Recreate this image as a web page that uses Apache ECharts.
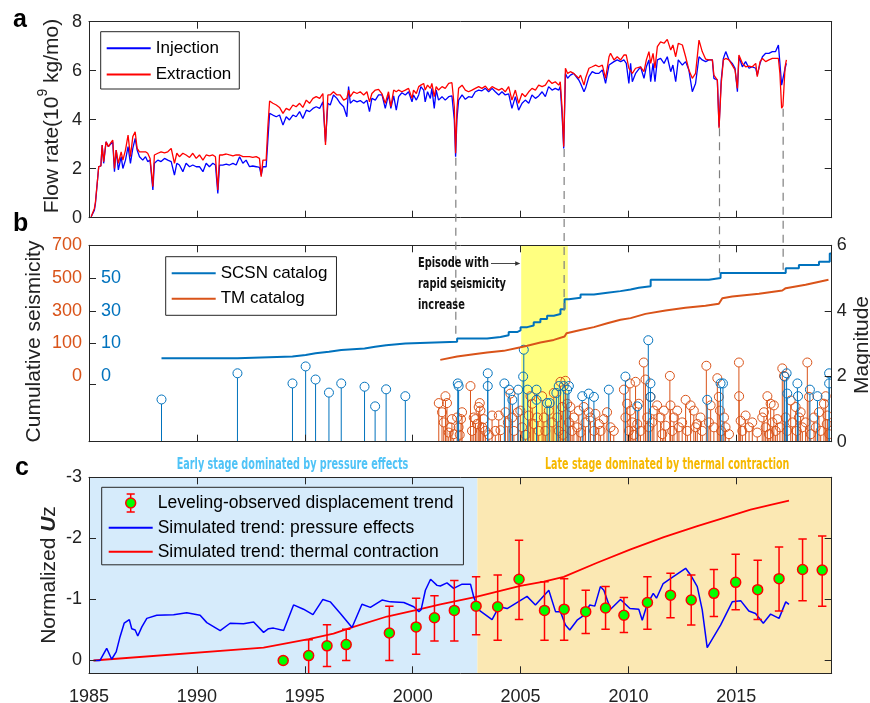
<!DOCTYPE html>
<html><head><meta charset="utf-8">
<script src="https://cdn.jsdelivr.net/npm/echarts@6/dist/echarts.min.js"></script>
<style>html,body{margin:0;padding:0;background:#fff}#c{width:870px;height:703px}</style>
</head><body><div id="c"></div>
<script>
// ---------------- DATA ----------------
// Panel a: flow rates (10^9 kg/mo)
const flowYears = [
1985.10,1985.25,1985.30,1985.38,1985.45,1985.55,1985.61,1985.68,1985.79,1985.90,
1985.99,1986.10,1986.18,1986.26,1986.36,1986.49,1986.57,1986.69,1986.81,1986.92,
1987.03,1987.14,1987.23,1987.34,1987.49,1987.62,1987.72,1987.83,1987.96,1988.03,
1988.19,1988.34,1988.50,1988.65,1988.81,1988.96,1989.07,1989.19,1989.35,1989.50,
1989.66,1989.81,1989.97,1990.12,1990.28,1990.43,1990.58,1990.74,1990.86,1990.97,
1991.05,1991.20,1991.36,1991.51,1991.67,1991.82,1991.98,1992.13,1992.28,1992.44,
1992.59,1992.75,1992.90,1992.98,1993.06,1993.21,1993.29,1993.37,1993.52,1993.68,
1993.83,1993.99,1994.14,1994.29,1994.45,1994.60,1994.76,1994.91,1995.07,1995.22,
1995.38,1995.53,1995.69,1995.84,1995.96,1996.07,
1996.18,1996.33,1996.49,1996.64,1996.80,1996.95,1997.03,1997.11,1997.26,1997.42,
1997.57,1997.73,1997.88,1998.00,1998.11,1998.27,1998.42,1998.58,1998.73,1998.88,
1998.99,1999.12,1999.24,1999.35,1999.50,1999.66,1999.81,1999.97,2000.04,2000.17,
2000.28,2000.38,2000.51,2000.58,2000.69,2000.82,2000.89,2001.00,2001.09,2001.20,
2001.36,2001.51,2001.67,2001.82,2001.93,2001.99,2002.05,2002.13,2002.29,2002.44,
2002.59,2002.75,2002.90,2003.06,2003.21,2003.37,2003.52,2003.68,2003.83,2003.99,
2004.14,2004.29,2004.45,2004.60,2004.76,2004.91,2005.07,2005.22,2005.38,2005.53,
2005.69,2005.84,2006.00,2006.15,2006.30,2006.46,2006.61,2006.77,2006.84,2006.92,
2007.00,2007.08,2007.18,2007.31,2007.46,
2007.70,2007.78,2007.94,2008.01,2008.17,2008.32,2008.48,2008.63,2008.79,2008.94,
2009.10,2009.17,2009.33,2009.48,2009.64,2009.79,2009.90,2010.02,2010.10,2010.18,
2010.33,2010.56,2010.72,2010.83,2010.95,2011.03,2011.14,2011.23,2011.34,2011.49,
2011.65,2011.80,2011.96,2012.06,2012.19,2012.31,2012.50,2012.65,2012.80,2012.96,
2013.11,2013.27,2013.42,2013.58,2013.73,2013.89,2013.96,2014.12,2014.20,2014.30,
2014.40,2014.51,2014.66,2014.81,2014.94,2015.05,2015.12,2015.28,2015.43,2015.59,
2015.74,2015.90,2015.97,2016.10,2016.21,2016.36,2016.51,2016.67,2016.82,2016.95,
2017.02,2017.10,2017.16,2017.26,2017.32];
const injection = [
0.04,0.31,0.59,0.59,2.08,2.11,2.97,2.22,3.10,2.90,
2.93,3.10,1.88,2.76,1.95,2.49,2.01,2.35,2.90,2.22,
2.83,3.24,2.76,2.49,2.35,2.49,2.29,2.35,1.13,2.22,
2.35,2.29,2.42,2.35,2.29,1.74,2.22,2.15,1.88,2.22,
2.08,2.15,2.08,2.08,1.88,2.22,2.08,2.22,2.15,0.99,
2.15,2.15,2.19,2.15,2.22,2.15,2.49,2.22,2.35,2.08,
2.11,2.08,2.05,1.74,2.08,2.08,3.17,4.26,4.19,4.12,
4.19,3.78,4.12,3.99,4.19,4.12,4.33,4.05,4.39,4.33,
4.46,4.53,4.46,4.73,3.10,4.67,
4.60,5.01,4.87,4.67,4.53,4.12,5.35,4.67,4.80,4.73,
4.78,4.67,4.80,4.33,4.87,4.80,5.01,5.01,4.46,5.01,
4.46,4.97,4.39,4.94,5.10,5.01,5.14,4.73,5.01,4.80,
5.01,5.35,5.21,4.73,5.14,4.87,5.28,4.46,5.21,4.80,
4.94,4.80,4.94,4.97,3.99,2.49,4.00,4.80,5.01,4.83,
4.94,4.91,5.14,5.21,5.18,5.28,5.14,5.28,5.14,5.01,
5.14,5.01,5.05,4.46,4.94,4.39,4.67,4.80,4.67,5.01,
4.87,4.97,5.14,4.94,5.35,5.21,5.28,5.21,5.35,4.26,
2.83,5.89,5.69,5.82,5.89,
5.62,5.48,5.14,5.28,5.76,5.96,5.89,5.89,6.03,5.48,
6.23,6.30,6.37,6.44,6.37,6.44,6.30,5.48,6.30,5.55,
5.89,6.16,5.69,6.16,6.44,5.55,6.30,5.55,6.44,6.50,
6.30,6.57,5.96,6.23,5.55,6.44,6.23,6.37,6.03,5.14,
5.48,6.57,6.44,6.37,6.44,6.44,5.69,5.62,3.71,5.62,
6.50,6.78,6.44,6.30,6.10,5.14,6.57,6.16,6.37,6.10,
6.16,6.10,5.82,6.30,6.57,6.71,6.71,6.78,6.78,7.05,
6.30,5.41,5.48,6.10,6.30];
const extraction = [
0.04,0.38,0.65,0.61,2.08,2.11,2.97,2.29,3.10,2.90,
3.03,3.17,2.01,2.76,2.22,2.69,2.35,2.76,3.37,2.49,
3.31,3.51,2.83,2.69,2.69,2.69,2.63,2.42,1.27,2.56,
2.63,2.69,2.65,2.69,2.83,2.22,2.63,2.49,2.63,2.56,
2.46,2.63,2.42,2.56,2.35,2.56,2.52,2.56,2.49,1.13,
2.56,2.56,2.60,2.56,2.52,2.56,2.56,2.49,2.49,2.49,
2.46,2.49,2.42,1.67,2.35,2.35,3.71,4.76,4.67,4.60,
4.50,4.26,4.46,4.39,4.60,4.53,4.67,4.50,4.80,4.67,
4.87,4.94,4.87,5.07,2.97,5.01,
5.01,5.14,5.01,5.01,4.80,4.87,5.21,4.94,5.14,5.07,
5.14,5.01,5.14,4.73,5.07,5.21,5.24,5.05,4.67,5.14,
4.53,5.21,5.14,5.21,5.14,5.21,5.28,4.87,5.21,5.07,
5.35,5.41,5.48,5.21,5.41,5.28,5.48,4.94,5.35,5.21,
5.35,5.28,5.48,5.51,4.53,2.63,4.39,5.28,5.41,5.21,
5.14,5.21,5.28,5.35,5.28,5.37,5.21,5.35,5.28,5.21,
5.28,5.14,5.35,4.80,5.21,4.67,5.07,4.94,5.14,5.28,
5.21,5.41,5.35,5.41,5.62,5.48,5.55,5.41,5.55,4.53,
2.90,6.10,5.89,5.96,5.89,
5.69,5.82,5.41,5.69,6.10,6.16,6.23,6.16,6.23,5.69,
6.57,6.71,6.44,6.57,6.44,6.64,6.64,6.10,6.16,5.89,
6.10,6.16,5.96,6.44,6.78,6.30,6.71,6.10,6.98,7.18,
7.12,7.28,6.84,7.05,6.57,7.12,7.05,6.57,6.03,5.69,
5.89,7.25,6.78,6.47,6.44,6.44,5.82,5.62,3.65,5.48,
6.44,6.50,6.44,6.23,6.03,5.28,6.64,6.30,6.16,6.19,
6.16,6.30,5.76,6.37,6.50,6.37,6.44,6.50,6.50,6.50,
5.89,4.47,4.56,6.16,6.44];

// Panel b: cumulative seismicity
const scsnCumYears = [1988.36,1991.88,1994.43,1995.04,1995.50,1996.12,1996.69,1997.77,1998.26,1998.77,1999.66,
2002.06,2003.45,2004.07,2004.45,2004.84,2005.00,2005.31,2005.61,2005.92,2006.23,
2006.54,2006.85,2007.04,2007.24,2007.78,2008.40,2009.02,2009.63,2010.10,2010.48,
2011.03,2013.73,2014.27,2017.29,2017.90,2018.83,2019.33,2019.42];
const scsnCum = [1,2,3,4,5,6,7,8,9,10,11,13,14,15,17,18,20,21,23,25,27,28,31,37,38,40,41,42,43,44,45,49,50,53,56,58,60,65,65];
const tmCumYears = [2001.28,2002.06,2002.83,2003.45,2004.22,2005.00,2005.31,2005.92,2006.54,2007.04,
2007.13,2007.78,2008.40,2009.02,2009.63,2010.10,2010.79,2011.72,2012.64,2013.57,
2014.19,2014.35,2014.81,2016.05,2017.13,2017.29,2018.21,2019.27];
const tmCum = [0,20,35,45,55,77,86,106,122,143,163,183,200,224,245,255,281,302,318,330,343,377,387,404,424,438,459,489];
// Panel b: event magnitudes
const scsnYears = [1988.36,1991.88,1994.43,1995.04,1995.50,1996.12,1996.69,1997.77,1998.26,1998.77,1999.66,
2002.09,2002.13,2003.48,2003.48,2004.25,2004.47,2004.62,2004.89,2005.15,2005.12,
2005.33,2005.74,2005.74,2006.23,2006.35,2006.66,2006.77,2007.00,2007.16,2007.24,
2007.86,2008.16,2008.40,2009.09,2009.86,2010.41,2010.92,2011.02,2011.02,2013.65,
2014.27,2014.38,2017.24,2017.33,2017.36,2017.83,2017.86,2018.41,2018.76,2019.30,2019.30];
const scsnMags = [1.29,2.09,1.78,2.30,1.90,1.50,1.78,1.68,1.08,1.60,1.39,
1.78,1.70,2.09,1.70,1.78,1.59,1.28,1.59,2.81,1.99,
1.59,1.59,1.28,1.18,1.18,1.49,1.70,1.70,1.59,1.70,
1.39,1.47,1.37,1.59,1.99,1.08,3.10,1.78,1.37,1.28,
1.78,1.78,1.99,2.09,1.47,1.78,1.39,1.59,1.39,2.09,1.78];
const tmYears = [
2001.21,2001.36,2001.44,2001.52,2001.59,2001.67,2001.75,2001.82,2001.90,2002.06,
2002.13,2002.18,2002.24,2002.29,2002.68,2002.75,2002.83,2002.91,2002.98,2003.06,
2003.11,2003.14,2003.22,2003.29,2003.37,2003.53,2003.68,2003.83,2003.99,2004.07,
2004.30,2004.41,2004.53,2004.61,2004.69,2004.87,2004.99,2005.07,2005.23,2005.38,
2005.46,2005.54,2005.61,2005.77,2005.84,2006.00,2006.08,2006.15,2006.31,2006.46,
2006.54,2006.70,2006.77,2006.85,2006.93,2006.97,2007.08,2007.16,2007.24,2007.31,
2007.39,2007.47,2007.62,2007.70,2007.78,2007.93,2008.01,2008.16,2008.24,2008.40,
2008.47,2008.63,2008.71,2008.86,2009.01,2009.17,2009.32,2009.79,2009.86,2009.94,
2010.02,2010.07,2010.10,2010.17,2010.25,2010.33,2010.41,2010.48,2010.56,2010.71,
2010.79,2010.87,2010.95,2011.02,2011.10,2011.18,2011.33,2011.49,2011.57,2011.64,
2011.72,2011.92,2011.95,2012.03,2012.11,2012.26,2012.34,2012.49,2012.65,2012.73,
2012.88,2013.03,2013.11,2013.19,2013.34,2013.42,2013.61,2013.73,2013.81,2013.96,
2014.12,2014.19,2014.24,2014.30,2014.43,2014.50,2014.66,2015.12,2015.13,2015.20,
2015.28,2015.43,2015.59,2015.74,2015.97,2016.20,2016.28,2016.36,2016.44,2016.51,
2016.59,2016.67,2016.74,2016.82,2016.90,2017.02,2017.13,2017.21,2017.29,2017.36,
2017.52,2017.60,2017.75,2017.80,2017.90,2017.98,2018.06,2018.21,2018.29,2018.37,
2018.45,2018.60,2018.68,2018.83,2018.91,2019.06,2019.14,2019.19,2019.22,2019.30];
const tmMags = [
1.18,0.90,0.59,1.39,1.18,0.28,0.44,0.69,0.23,0.74,
0.44,0.21,0.69,0.90,1.70,0.33,0.74,0.69,0.54,1.06,
1.18,0.95,0.44,0.69,0.33,0.21,0.80,0.33,0.80,0.35,
0.90,0.59,1.47,0.74,0.33,0.90,0.95,0.44,0.21,0.80,
1.39,1.16,0.54,0.74,0.33,1.39,0.74,0.33,0.95,0.59,
1.49,0.74,0.33,1.83,1.06,0.21,1.86,1.16,0.59,1.06,
0.33,0.74,0.44,0.95,0.28,1.06,0.59,0.90,0.74,0.33,
0.85,0.54,0.33,0.69,0.90,0.44,0.33,1.59,0.74,1.16,
0.33,1.78,0.95,0.59,0.21,1.83,0.54,1.16,0.33,2.42,
1.90,0.74,0.44,1.37,0.59,0.95,1.11,0.74,0.23,0.95,
0.49,2.01,1.11,0.33,0.74,0.95,0.44,0.59,1.28,0.33,
1.11,0.95,0.44,0.54,0.74,0.33,2.32,0.59,1.11,0.44,
1.94,1.37,0.95,0.33,0.74,0.44,0.23,2.42,1.39,0.64,
0.33,0.80,0.44,0.59,0.28,0.74,0.90,0.44,1.39,0.23,
1.16,0.59,1.11,0.33,0.69,0.44,2.24,2.01,0.74,0.33,
1.26,0.59,1.06,0.33,0.74,0.90,0.44,0.59,2.42,1.37,
0.23,0.74,0.44,0.90,0.33,1.16,1.39,0.54,0.80,0.23];

// Panel c: normalized Uz
const thermalYears = [1985.20,1993.09,1995.18,1996.33,1997.26,1998.81,2000.20,2001.28,2002.94,2004.99,2006.08,2007.00,2008.55,2010.10,2011.64,2013.19,2014.73,2015.66,2016.59,2017.44];
const thermalVals = [0,-0.21,-0.35,-0.44,-0.55,-0.72,-0.83,-0.92,-1.04,-1.22,-1.29,-1.37,-1.60,-1.82,-2.02,-2.20,-2.37,-2.47,-2.55,-2.62];
const pressureYears = [1985.24,1985.51,1985.82,1986.05,1986.26,1986.44,1986.63,1986.87,1986.98,1987.14,
1987.26,1987.45,1987.68,1988.14,1988.92,1989.53,1990.15,1990.46,1991.08,1991.54,
1992.16,1992.63,1993.09,1993.32,1993.55,1994.02,1994.48,1994.94,1995.38,1995.84,
1996.18,1996.65,1997.19,1997.65,1998.04,1998.58,1998.97,1999.59,2000.05,2000.29,
2000.39,2000.59,2000.83,2001.13,2001.28,2001.59,2001.90,2002.29,2002.68,2002.83,
2003.06,2003.68,2004.00,2004.38,2005.30,2005.69,2006.31,2006.62,2006.85,2007.08,
2007.28,2007.62,2007.93,2008.21,2008.44,2008.70,2008.86,2009.17,2009.63,2010.07,
2010.48,2010.64,2010.87,2011.15,2011.30,2011.61,2012.03,2012.65,2012.88,2013.19,
2013.42,2013.65,2014.27,2014.81,2015.20,2015.58,2015.89,2016.25,2016.59,2016.98,
2017.29,2017.44];
const pressureVals = [0,0,-0.2,-0.02,-0.14,-0.39,-0.61,-0.67,-0.52,-0.50,
-0.40,-0.55,-0.69,-0.74,-0.75,-0.78,-0.74,-0.62,-0.49,-0.61,
-0.60,-0.63,-0.46,-0.52,-0.53,-0.49,-0.91,-0.84,-0.75,-1.00,
-0.96,-0.77,-0.54,-0.92,-0.87,-0.99,-0.96,-0.95,-0.88,-0.80,
-0.83,-1.15,-1.33,-1.23,-1.22,-1.27,-1.18,-1.25,-1.25,-1.04,
-0.83,-0.67,-0.88,-0.85,-1.05,-0.91,-1.15,-0.80,-0.80,-0.58,
-0.50,-0.66,-0.74,-0.91,-0.89,-1.21,-1.15,-0.84,-1.00,-0.85,
-0.84,-0.66,-0.92,-1.10,-1.02,-1.26,-1.36,-1.51,-1.40,-1.21,
-0.83,-0.21,-0.58,-0.96,-0.98,-0.81,-0.77,-0.61,-0.76,-0.69,
-0.96,-0.92];
const obsYears = [1994.00,1995.18,1996.03,1996.92,1998.92,2000.16,2001.01,2001.93,2002.94,2003.94,2004.93,2006.11,2007.02,2008.02,2008.94,2009.79,2010.88,2011.95,2012.91,2013.96,2014.97,2015.99,2016.98,2018.07,2018.98];
const obsVals = [0,-0.08,-0.24,-0.26,-0.45,-0.55,-0.70,-0.82,-0.89,-0.88,-1.33,-0.82,-0.84,-0.80,-0.86,-0.74,-0.95,-1.07,-0.99,-1.10,-1.28,-1.16,-1.34,-1.49,-1.48];
const obsLow = [0,0.25,0.10,0,0,-0.10,-0.32,-0.32,-0.42,-0.33,-0.67,-0.33,-0.33,-0.44,-0.51,-0.46,-0.51,-0.70,-0.58,-0.72,-0.83,-0.67,-0.81,-0.98,-0.89];
const obsHigh = [0,-0.34,-0.585,-0.51,-0.89,-1.02,-1.06,-1.31,-1.37,-1.40,-1.97,-1.29,-1.34,-1.15,-1.21,-1.03,-1.37,-1.43,-1.40,-1.49,-1.74,-1.64,-1.86,-1.99,-2.04];

// Annotation anchors (dashed guide lines)
const dashYears = [2002.00, 2007.02, 2014.22, 2017.17];
const dashFlow = [2.45, 2.80, 3.65, 4.45];
const dashCount = [13, 30, 53, 55];
const episodeBand = [2005.03, 2007.19];
const stageSplit = 2003.0;

// ---------------- CHART ----------------
const FONT = "'Liberation Sans', Arial, Helvetica, sans-serif";
const COND = "'Liberation Sans Narrow', 'DejaVu Sans Condensed', 'Liberation Sans', sans-serif";
const AX = '#262626';
const XMIN = 1985, XMAX = 2019.42;
const zip = (a, b) => a.map((v, i) => [v, b[i]]);

const chart = echarts.init(document.getElementById('c'), null, {renderer: 'canvas'});

function xAx(grid, pos, labels) {
  return {
    type: 'value', gridIndex: grid, position: pos, min: XMIN, max: XMAX, interval: 5, z: 5,
    splitLine: {show: false},
    axisLine: {show: true, onZero: false, lineStyle: {color: AX, width: 1}},
    axisTick: {show: true, inside: true, length: 7, lineStyle: {color: AX}},
    axisLabel: labels ? {show: true, fontSize: 18, fontFamily: FONT, color: '#222', margin: 15,
      showMaxLabel: false, formatter: v => String(Math.round(v))} : {show: false}
  };
}
function yAx(grid, pos, extra) {
  const base = {
    type: 'value', gridIndex: grid, position: pos, z: 5,
    splitLine: {show: false},
    axisLine: {show: true, onZero: false, lineStyle: {color: AX, width: 1}},
    axisTick: {show: true, inside: true, length: 7, lineStyle: {color: AX}},
    axisLabel: {show: false}
  };
  return Object.assign(base, extra);
}
const lbl = (o) => Object.assign({show: true, fontSize: 18, fontFamily: FONT, color: '#222', padding: [3, 0, 0, 0]}, o);

function stemRender(color) {
  return function (params, api) {
    const x = api.value(0), m = api.value(1);
    const top = api.coord([x, m]), base = api.coord([x, 0]);
    const r = 4.5;
    return {type: 'group', children: [
      {type: 'line', shape: {x1: top[0], y1: top[1] + r, x2: base[0], y2: base[1]}, style: {stroke: color, lineWidth: 1}},
      {type: 'circle', shape: {cx: top[0], cy: top[1], r: r}, style: {fill: null, stroke: color, lineWidth: 1}}
    ]};
  };
}
function errRender(params, api) {
  const x = api.value(0);
  const p1 = api.coord([x, api.value(1)]), p2 = api.coord([x, api.value(2)]);
  const w = 4.2, st = {stroke: '#ff0000', lineWidth: 1.5};
  return {type: 'group', children: [
    {type: 'line', shape: {x1: p1[0], y1: p1[1], x2: p2[0], y2: p2[1]}, style: st},
    {type: 'line', shape: {x1: p1[0] - w, y1: p1[1], x2: p1[0] + w, y2: p1[1]}, style: st},
    {type: 'line', shape: {x1: p2[0] - w, y1: p2[1], x2: p2[0] + w, y2: p2[1]}, style: st}
  ]};
}

const legendBase = {
  orient: 'vertical', selectedMode: false, borderColor: AX, borderWidth: 1, borderRadius: 0,
  itemWidth: 44, itemHeight: 14, itemStyle: {opacity: 0},
  textStyle: {fontSize: 17, fontFamily: FONT, color: '#000', lineHeight: 14}
};
const ebIcon = 'path://M5.5,0 L5.5,4.5 M1,0 L10,0 M5.5,15.5 L5.5,20 M1,20 L10,20 M11,10 A5.5,5.5 0 1 1 0,10 A5.5,5.5 0 1 1 11,10 Z';

const gridBase = {left: 89, right: 38.3, outerBoundsMode: 'none', containLabel: false};
const option = {
  animation: false,
  textStyle: {fontFamily: FONT},
  grid: [
    Object.assign({top: 21.7, height: 196}, gridBase),
    Object.assign({top: 245.3, height: 196.4}, gridBase),
    Object.assign({top: 477.3, height: 196}, gridBase)
  ],
  xAxis: [xAx(0, 'bottom'), xAx(0, 'top'), xAx(1, 'bottom'), xAx(1, 'top'), xAx(2, 'bottom', true), xAx(2, 'top')],
  yAxis: [
    yAx(0, 'left', {min: 0, max: 8, interval: 2, axisLabel: lbl({margin: 7})}),
    yAx(0, 'right', {min: 0, max: 8, interval: 2}),
    yAx(1, 'left', {min: -50, max: 70,
      axisTick: {show: true, inside: true, length: 7, lineStyle: {color: AX}, customValues: [-15, 10, 30, 50]},
      axisLabel: lbl({inside: true, margin: 12, color: '#0072BD', customValues: [-10, 10, 30, 50],
        formatter: v => (v < 0 ? '0' : String(v))})}),
    yAx(1, 'left', {min: -500, max: 700, axisLine: {show: false}, axisTick: {show: false},
      axisLabel: lbl({margin: 7, color: '#D95319', customValues: [-100, 100, 300, 500, 700],
        formatter: v => (v < 0 ? '0' : String(v))})}),
    yAx(1, 'right', {min: 0, max: 6, interval: 2, axisLabel: lbl({margin: 5})}),
    yAx(2, 'left', {min: -3, max: 0.21, inverse: true, interval: 1,
      axisLabel: lbl({margin: 7, showMaxLabel: false, formatter: v => String(v)})}),
    yAx(2, 'right', {min: -3, max: 0.21, inverse: true, interval: 1})
  ],
  legend: [
    Object.assign({}, legendBase, {left: 100.7, top: 31.7, padding: [8, 8, 6, 5], itemGap: 9.3,
      backgroundColor: '#fff', data: ['Injection', 'Extraction']}),
    Object.assign({}, legendBase, {left: 165.7, top: 256.7, padding: [8, 9, 8, 5], itemGap: 8.6,
      backgroundColor: '#fff', data: ['SCSN catalog', 'TM catalog']}),
    Object.assign({}, legendBase, {left: 101.7, top: 487.3, padding: [6, 10, 4, 6], itemGap: 6, itemHeight: 18,
      textStyle: {fontSize: 17.5, fontFamily: FONT, color: '#000', lineHeight: 18},
      data: [
        {name: 'Leveling-observed displacement trend', icon: ebIcon,
          itemStyle: {color: '#00ff00', borderColor: '#ff0000', borderWidth: 1.5, opacity: 1}},
        'Simulated trend: pressure effects', 'Simulated trend: thermal contraction']})
  ],
  series: [
    // panel a
    {name: 'Injection', type: 'line', xAxisIndex: 0, yAxisIndex: 0, data: zip(flowYears, injection),
      symbol: 'none', lineStyle: {color: '#0000ff', width: 1.3}, itemStyle: {color: '#0000ff'}},
    {name: 'Extraction', type: 'line', xAxisIndex: 0, yAxisIndex: 0, data: zip(flowYears, extraction),
      symbol: 'none', lineStyle: {color: '#ff0000', width: 1.3}, itemStyle: {color: '#ff0000'}},
    // panel b
    {type: 'line', xAxisIndex: 2, yAxisIndex: 4, data: [], z: 1, silent: true,
      markArea: {silent: true, itemStyle: {color: '#ffff80'},
        data: [[{xAxis: episodeBand[0]}, {xAxis: episodeBand[1]}]]}},
    {type: 'custom', xAxisIndex: 2, yAxisIndex: 4, renderItem: stemRender('#D95319'), clip: true,
      encode: {x: 0, y: 1}, data: zip(tmYears, tmMags), z: 2, silent: true},
    {type: 'custom', xAxisIndex: 2, yAxisIndex: 4, renderItem: stemRender('#0072BD'), clip: true,
      encode: {x: 0, y: 1}, data: zip(scsnYears, scsnMags), z: 2, silent: true},
    {name: 'SCSN catalog', type: 'line', step: 'end', xAxisIndex: 2, yAxisIndex: 2, data: zip(scsnCumYears, scsnCum),
      symbol: 'none', lineStyle: {color: '#0072BD', width: 2}, itemStyle: {color: '#0072BD'}, z: 3},
    {name: 'TM catalog', type: 'line', xAxisIndex: 2, yAxisIndex: 3, data: zip(tmCumYears, tmCum),
      symbol: 'none', lineStyle: {color: '#D95319', width: 2}, itemStyle: {color: '#D95319'}, z: 3},
    // panel c
    {type: 'line', xAxisIndex: 4, yAxisIndex: 5, data: [], z: 1, silent: true,
      markArea: {silent: true, data: [
        [{xAxis: XMIN, itemStyle: {color: '#d6ebfb'}}, {xAxis: stageSplit}],
        [{xAxis: stageSplit, itemStyle: {color: '#fbe8b3'}}, {xAxis: XMAX}]]}},
    {name: 'Simulated trend: thermal contraction', type: 'line', xAxisIndex: 4, yAxisIndex: 5,
      data: zip(thermalYears, thermalVals), symbol: 'none',
      lineStyle: {color: '#ff0000', width: 1.8}, itemStyle: {color: '#ff0000'}, z: 3},
    {name: 'Simulated trend: pressure effects', type: 'line', xAxisIndex: 4, yAxisIndex: 5,
      data: zip(pressureYears, pressureVals), symbol: 'none',
      lineStyle: {color: '#0000ff', width: 1.5}, itemStyle: {color: '#0000ff'}, z: 3},
    {type: 'custom', xAxisIndex: 4, yAxisIndex: 5, renderItem: errRender, clip: true,
      encode: {x: 0, y: [1, 2]}, data: obsYears.map((y, i) => [y, obsLow[i], obsHigh[i]]), z: 4, silent: true},
    {name: 'Leveling-observed displacement trend', type: 'scatter', xAxisIndex: 4, yAxisIndex: 5,
      data: zip(obsYears, obsVals), symbol: 'circle', symbolSize: 10, z: 5,
      itemStyle: {color: '#00ff00', borderColor: '#ff0000', borderWidth: 1.5, opacity: 1}}
  ]
};
chart.setOption(option);

// ---------------- ANNOTATIONS ----------------
const mctx = document.createElement('canvas').getContext('2d');
function measure(text, size, weight, family) { mctx.font = weight + ' ' + size + 'px ' + family; return mctx.measureText(text).width; }

const graphics = [];
// dashed guide lines from flow dips down to SCSN curve
dashYears.forEach((yr, i) => {
  const top = chart.convertToPixel({xAxisIndex: 0, yAxisIndex: 0}, [yr, dashFlow[i]]);
  const bot = chart.convertToPixel({xAxisIndex: 2, yAxisIndex: 2}, [yr, dashCount[i]]);
  graphics.push({type: 'line', z: 10, silent: true,
    shape: {x1: top[0], y1: top[1], x2: bot[0], y2: bot[1]},
    style: {stroke: '#808080', lineWidth: 1.2, lineDash: [8, 6]}});
});

function txt(x, y, text, opts) {
  return Object.assign({type: 'text', x: x, y: y, z: 20, silent: true,
    style: Object.assign({text: text, fill: '#222', align: 'center', verticalAlign: 'middle',
      textAlign: 'center', textVerticalAlign: 'middle', fontFamily: FONT}, opts.style || {})}, opts.el || {});
}
// panel letters
['a', 'b', 'c'].forEach((t, i) => {
  graphics.push(txt([13, 13, 15][i], [20, 224.5, 468.5][i], t,
    {style: {fontSize: 25, fontWeight: 'bold', fill: '#000', align: 'left', textAlign: 'left'}}));
});
// axis titles
graphics.push(txt(52, 116, 'Flow rate(10{sup|9} kg/mo)', {el: {rotation: Math.PI / 2},
  style: {fontSize: 21, lineHeight: 32, rich: {sup: {fontSize: 14, lineHeight: 14, verticalAlign: 'top', fontFamily: FONT, fill: '#222'}}}}));
graphics.push(txt(34, 341.5, 'Cumulative seismicity', {el: {rotation: Math.PI / 2}, style: {fontSize: 21}}));
graphics.push(txt(862, 345, 'Magnitude', {el: {rotation: Math.PI / 2}, style: {fontSize: 21}}));
graphics.push(txt(49, 575, 'Normalized {b|U}z', {el: {rotation: Math.PI / 2},
  style: {fontSize: 21, rich: {b: {fontSize: 21, fontWeight: 'bold', fontStyle: 'italic', fontFamily: FONT, fill: '#222'}}}}));

// stage labels (condensed bold)
const earlyT = 'Early stage dominated by pressure effects';
const lateT = 'Late stage dominated by thermal contraction';
graphics.push(txt(292.5, 465.5, earlyT, {el: {scaleX: 231.7 / measure(earlyT, 15, 'bold', COND)},
  style: {fontSize: 15, fontWeight: 'bold', fontFamily: COND, fill: '#4fc3f7'}}));
graphics.push(txt(667.2, 465.5, lateT, {el: {scaleX: 244.3 / measure(lateT, 15, 'bold', COND)},
  style: {fontSize: 15, fontWeight: 'bold', fontFamily: COND, fill: '#f6b800'}}));

// episode annotation
const epScale = 88 / measure('rapid seismicity', 14.5, 'bold', COND);
[['Episode with', 263.3], ['rapid seismicity', 284.3], ['increase', 305]].forEach(([t, y]) => {
  graphics.push(txt(418, y, t, {el: {scaleX: epScale},
    style: {fontSize: 14.5, fontWeight: 'bold', fontFamily: COND, fill: '#111', align: 'left', textAlign: 'left'}}));
});
const bandPx = chart.convertToPixel({xAxisIndex: 2, yAxisIndex: 4}, [episodeBand[0], 0])[0];
graphics.push({type: 'line', z: 20, silent: true, shape: {x1: 491, y1: 263.5, x2: bandPx - 2, y2: 263.5},
  style: {stroke: '#333', lineWidth: 0.9}});
graphics.push({type: 'polygon', z: 20, silent: true,
  shape: {points: [[bandPx - 1, 263.5], [bandPx - 6, 261.3], [bandPx - 6, 265.7]]}, style: {fill: '#333'}});

chart.setOption({graphic: graphics});
</script></body></html>
